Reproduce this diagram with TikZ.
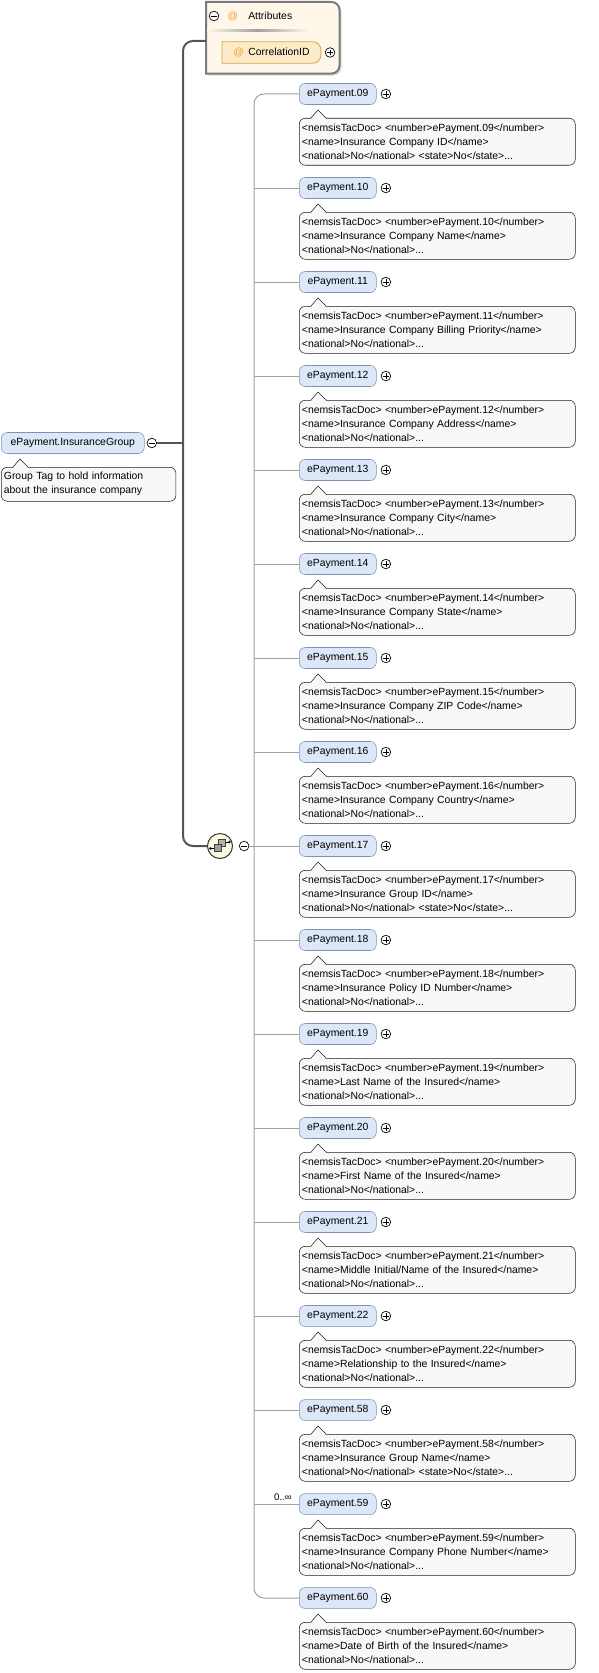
\documentclass[tikz,border=0pt]{standalone}
\usepackage{fontspec}
\setmainfont{Liberation Sans}
\usetikzlibrary{positioning,backgrounds}
\definecolor{elemfill}{HTML}{DCE7F8}
\definecolor{elemline}{HTML}{7F93B0}
\definecolor{docfill}{HTML}{F8F8F8}
\definecolor{docline}{HTML}{1E1E1E}
\definecolor{attrfill}{HTML}{FFF8EA}
\definecolor{attrline}{HTML}{7A7A7A}
\definecolor{cidfill}{HTML}{FDEBC8}
\definecolor{cidline}{HTML}{D6A451}
\definecolor{atorange}{HTML}{F0A030}
\definecolor{seqfill}{HTML}{FCF9E1}
\definecolor{busline}{HTML}{A0A0A0}
\definecolor{trunkline}{HTML}{555555}
\tikzset{
  elem/.style={draw=elemline, fill=elemfill, rounded corners=4.5pt, minimum width=57.75pt,
    minimum height=15.75pt, inner sep=0pt, font=\fontsize{7.8}{9}\selectfont},
  doc/.style={draw=docline, fill=docfill, rounded corners=4.5pt, anchor=north west, align=left,
    inner xsep=2pt, inner ysep=2pt, text width=203pt, minimum height=35.25pt,
    font=\fontsize{7.8}{10.5}\selectfont},
  plusbtn/.style={circle, draw=black, fill=white, minimum size=7.2pt, inner sep=0pt, line width=0.5pt,
    path picture={\draw[line width=0.5pt] (path picture bounding box.center) ++(-2.1pt,0) -- ++(4.2pt,0);
      \draw[line width=0.5pt] (path picture bounding box.center) ++(0,-2.1pt) -- ++(0,4.2pt);}},
  minusbtn/.style={circle, draw=black, fill=white, minimum size=7.2pt, inner sep=0pt, line width=0.5pt,
    path picture={\draw[line width=0.5pt] (path picture bounding box.center) ++(-2.1pt,0) -- ++(4.2pt,0);}},
  seqnode/.style={circle, draw=black!80, fill=seqfill, line width=0.75pt, minimum size=18.75pt, inner sep=0pt},
  trunk/.style={draw=trunkline, line width=1.5pt},
  bus/.style={draw=busline, line width=0.75pt},
  notch/.style={draw=docline, line width=0.4pt}
}
\begin{document}
\begin{tikzpicture}[x=0.75pt, y=-0.75pt]
\useasboundingbox (0,0) rectangle (599,1673);

% root element
\node[elem, anchor=west, minimum width=107.25pt] (root) at (1,443) {ePayment.InsuranceGroup};
\node[minusbtn, right=1.6pt of root] (rminus) {};
\node[doc, text width=127pt, minimum height=25.5pt] (rootdoc) at (1,467)
  {Group Tag to hold information\\about the insurance company};
\fill[docfill] ([shift={(12,1)}]rootdoc.north west) -- ++(7,-9) -- ++(8,9) -- cycle;
\draw[notch] ([shift={(12,0)}]rootdoc.north west) -- ++(7,-8) -- ++(8,8);

% attributes
\node[inner sep=0pt, minimum width=99.75pt, minimum height=53.25pt, anchor=north west] (attr) at (206,2) {};
\node[minusbtn] (amin) at (214,16) {};
\node[text=atorange, inner sep=0pt, font=\fontsize{7.8}{9}\selectfont] (aat) at (233,16) {@};
\node[anchor=west, inner sep=0pt, font=\fontsize{7.8}{9}\selectfont] (atitle) at (248,16) {Attributes};
\shade[left color=attrfill, right color=attrfill, middle color=gray!75] (207,29.5) rectangle (308,31.5);
\node[anchor=west, inner xsep=8.25pt, inner ysep=0pt, minimum height=15.75pt,
  font=\fontsize{7.8}{9}\selectfont] (cid) at (222,52.5) {\textcolor{atorange}{@}\hspace{3.4pt}CorrelationID};
\node[plusbtn, right=3pt of cid] (cplus) {};

% sequence
\node[seqnode] (seq) at (220,846) {};
\begin{scope}[shift={(seq.center)}]
  \draw[line width=0.6pt] (-9.5,2.5) -- (-6,2.5) (5.5,-4) -- (9.5,-4);
  \fill (-9.5,2.5) circle[radius=1pt] (9.5,-4) circle[radius=1pt];
  \filldraw[fill=gray!60, draw=black!75, line width=0.5pt] (-1.5,-7) rectangle (5.5,0);
  \filldraw[fill=gray!75, draw=black!75, line width=0.5pt] (-6,-1.5) rectangle (1,5.5);
\end{scope}
\node[minusbtn, right=4.5pt of seq] (sminus) {};

% children
\foreach \i/\n/\nm/\s in {0/09/Insurance Company ID/1, 1/10/Insurance Company Name/0,
    2/11/Insurance Company Billing Priority/0, 3/12/Insurance Company Address/0,
    4/13/Insurance Company City/0, 5/14/Insurance Company State/0,
    6/15/Insurance Company ZIP Code/0, 7/16/Insurance Company Country/0,
    8/17/Insurance Group ID/1, 9/18/Insurance Policy ID Number/0,
    10/19/Last Name of the Insured/0, 11/20/First Name of the Insured/0,
    12/21/{Middle Initial/Name of the Insured}/0, 13/22/Relationship to the Insured/0,
    14/58/Insurance Group Name/1, 15/59/Insurance Company Phone Number/0,
    16/60/Date of Birth of the Insured/0} {
  \node[elem, anchor=west] (e\n) at (299,{94+94*\i}) {ePayment.\n};
  \node[plusbtn, right=3.15pt of e\n] (p\n) {};
  \node[doc] (d\n) at (299,{118+94*\i})
    {<nemsisTacDoc> <number>ePayment.\n</number>\\<name>\nm</name>\\<national>No</national>\ifnum\s=1\ <state>No</state>\fi...};
  \fill[docfill] ([shift={(12,1)}]d\n.north west) -- ++(7,-9) -- ++(8,9) -- cycle;
  \draw[notch] ([shift={(12,0)}]d\n.north west) -- ++(7,-8) -- ++(8,8);
}
\node[anchor=south east, inner sep=0pt, font=\fontsize{7.2}{8}\selectfont] (occ) at ([shift={(-7,-3)}]e59.west) {0..∞};

% connectors
\coordinate (attrin) at (206,41);
\coordinate (trunk) at (183,443);
\coordinate (busmid) at (254,846);
\draw[trunk] (rminus) -- (trunk);
\draw[trunk, rounded corners=7.5pt] (attrin) -| (trunk) |- (seq);
\draw[bus] (sminus) -- (e17);
\draw[bus, rounded corners=7.5pt] (e09.west) -| (busmid) |- (e60.west);
\foreach \n in {10,11,12,13,14,15,16,18,19,20,21,22,58,59}
  \draw[bus] (e\n.west) -- (busmid |- e\n.west);

\begin{scope}[on background layer]
  \fill[gray!30] ([shift={(2,2)}]attr.north) [rounded corners=6pt] -- ([shift={(2,2)}]attr.north east)
    -- ([shift={(2,2)}]attr.south east) -- ([shift={(2,2)}]attr.south) [sharp corners]
    -- ([shift={(2,2)}]attr.south west) -- ([shift={(2,2)}]attr.north west) -- cycle;
  \draw[attrline, line width=1.5pt, fill=attrfill] (attr.north) [rounded corners=6pt] -- (attr.north east)
    -- (attr.south east) -- (attr.south) [sharp corners] -- (attr.south west) -- (attr.north west) -- cycle;
  \draw[cidline, fill=cidfill, line width=0.6pt] (cid.north) [rounded corners=6pt] -- (cid.north east)
    -- (cid.south east) -- (cid.south) [sharp corners] -- (cid.south west) -- (cid.north west) -- cycle;
\end{scope}
\end{tikzpicture}
\end{document}
